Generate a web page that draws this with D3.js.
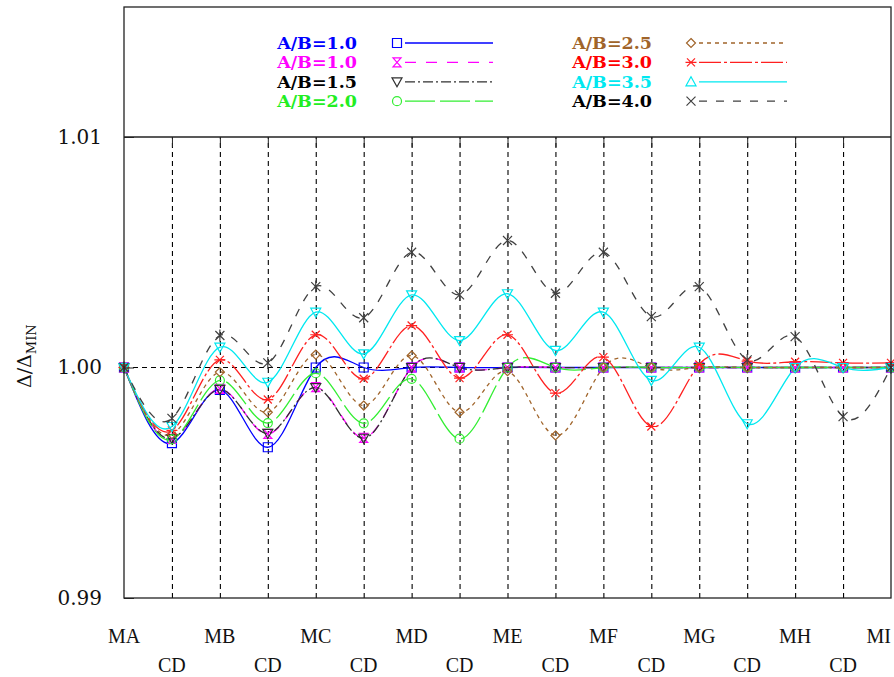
<!DOCTYPE html>
<html>
<head>
<meta charset="utf-8">
<script src="https://cdn.jsdelivr.net/npm/d3@7"></script>
<style>
  body { margin: 0; background: #fff; }
</style>
</head>
<body>
<svg id="canvas"></svg>
<script>
// x positions (tick labels)
let xLabels = ['MA', 'CD', 'MB', 'CD', 'MC', 'CD', 'MD', 'CD', 'ME', 'CD', 'MF', 'CD', 'MG', 'CD', 'MH', 'CD', 'MI'];
let yTicks = [0.99, 1.00, 1.01];

// series values
let ab10a = [1.0000, 0.99672, 0.99903, 0.99654, 1.0000, 1.0000, 1.0000, 1.0000, 1.0000, 1.0000, 1.0000, 1.0000, 1.0000, 1.0000, 1.0000, 1.0000, 1.0000];
let ab10b = [1.0000, 0.99690, 0.99907, 0.99712, 0.99915, 0.99695, 1.0000, 1.0000, 1.0000, 1.0000, 1.0000, 1.0000, 1.0000, 1.0000, 1.0000, 1.0000, 1.0000];
let ab15 = [1.0000, 0.99692, 0.99905, 0.99714, 0.99913, 0.99693, 1.0000, 1.0000, 1.0000, 1.0000, 1.0000, 1.0000, 1.0000, 1.0000, 1.0000, 1.0000, 1.0000];
let ab20 = [1.0000, 0.99688, 0.99944, 0.99759, 0.99975, 0.99758, 0.99951, 0.99691, 1.0000, 1.0000, 1.0000, 1.0000, 1.0000, 1.0000, 1.0000, 1.0000, 1.0000];
let ab25 = [1.0000, 0.99710, 0.99980, 0.99806, 1.00056, 0.99835, 1.00052, 0.99806, 0.99984, 0.99705, 1.0000, 1.0000, 1.0000, 1.0000, 1.0000, 1.0000, 1.0000];
let ab30 = [1.0000, 0.99727, 1.00033, 0.99861, 1.00142, 0.99951, 1.00182, 0.99954, 1.00142, 0.99889, 1.00045, 0.99744, 1.00013, 1.00028, 1.00025, 1.00020, 1.00020];
let ab35 = [1.0000, 0.99744, 1.00088, 0.99936, 1.00240, 1.00059, 1.00315, 1.00117, 1.00320, 1.00074, 1.00240, 0.99944, 1.00088, 0.99756, 1.0000, 1.0000, 1.0000];
let ab40 = [1.0000, 0.99779, 1.00139, 1.00020, 1.00351, 1.00216, 1.00500, 1.00315, 1.00551, 1.00322, 1.00500, 1.00221, 1.00351, 1.00033, 1.00134, 0.99787, 1.0000];

let seriesNames = ['A/B=1.0', 'A/B=1.0', 'A/B=1.5', 'A/B=2.0', 'A/B=2.5', 'A/B=3.0', 'A/B=3.5', 'A/B=4.0'];
let seriesValues = [ab10a, ab10b, ab15, ab20, ab25, ab30, ab35, ab40];

// styles
let lineColors = ['#0000ff', '#ff00ff', '#303030', '#33ee33', '#a0642a', '#ff2020', '#00e8f0', '#404040'];
let textColors = ['#0000ff', '#ff00ff', '#000000', '#22ee22', '#a0642a', '#ff0000', '#00e8f0', '#000000'];
let dashes = ['none', '11,10', '10,3,2,3', '30,5', '4,4', '22,3,3,3', 'none', '8,9'];
let markers = ['square', 'hourglass', 'tridown', 'circle', 'diamond', 'starh', 'triup', 'cross'];
let plotMarkers = ['square', 'hourglass', 'tridown', 'circle', 'diamond', 'starh', 'tridown', 'starv'];

let width = 894;
let height = 677;
let plotLeft = 124, plotRight = 891, plotTop = 7, plotSep = 137, plotBottom = 598;

let canvas = d3.select('#canvas');
canvas.attr('width', width);
canvas.attr('height', height);

let xScale = d3.scaleLinear().domain([0, xLabels.length - 1]).range([plotLeft, plotRight]);
let yScale = d3.scaleLinear().domain([0.99, 1.01]).range([plotBottom, plotSep]);

let markerPath = (type) => {
    switch (type) {
        case 'square': return 'M-4.5,-4.5H4.5V4.5H-4.5Z';
        case 'hourglass': return 'M-4,-4.5H4L-4,4.5H4Z';
        case 'tridown': return 'M-5,-4H5L0,5Z';
        case 'triup': return 'M-5,4H5L0,-5Z';
        case 'diamond': return 'M0,-4.5L4.5,0L0,4.5L-4.5,0Z';
        case 'starh': return 'M-4,-4L4,4M-4,4L4,-4M-5.5,0H5.5';
        case 'starv': return 'M-4.5,-4.5L4.5,4.5M-4.5,4.5L4.5,-4.5M0,-6V6';
        case 'cross': return 'M-4.5,-4.5L4.5,4.5M-4.5,4.5L4.5,-4.5';
    }
    return '';
};

let drawMarker = (g, type, color) => {
    if (type === 'circle') {
        g.append('circle').attr('r', 4.5)
            .attr('fill', 'none').attr('stroke', color).attr('stroke-width', 1.2);
    } else {
        g.append('path').attr('d', markerPath(type))
            .attr('fill', 'none').attr('stroke', color).attr('stroke-width', 1.2);
    }
};

// grid lines
let xGrid = d3.axisBottom(xScale)
    .tickValues(d3.range(1, xLabels.length - 1))
    .tickSize(-(plotBottom - plotSep))
    .tickFormat('');
canvas.append('g')
    .attr('transform', 'translate(0,' + plotBottom + ')')
    .call(xGrid)
    .call(g => g.select('.domain').remove())
    .call(g => g.selectAll('line').attr('stroke', '#000').attr('stroke-dasharray', '5,4').attr('stroke-width', 1.1));

canvas.append('line')
    .attr('x1', plotLeft).attr('x2', plotRight)
    .attr('y1', yScale(1.0)).attr('y2', yScale(1.0))
    .attr('stroke', '#000').attr('stroke-dasharray', '5,4').attr('stroke-width', 1.1);

// top mirror ticks under the legend box
canvas.append('g')
    .attr('transform', 'translate(0,' + plotSep + ')')
    .call(d3.axisBottom(xScale).tickValues(d3.range(1, xLabels.length - 1)).tickSize(10).tickFormat(''))
    .call(g => g.select('.domain').remove())
    .call(g => g.selectAll('line').attr('stroke', '#222').attr('stroke-width', 1));

// series
let line = d3.line()
    .x((d, i) => xScale(i))
    .y(d => yScale(d))
    .curve(d3.curveNatural);

seriesValues.forEach((vals, s) => {
    canvas.append('path')
        .datum(vals)
        .attr('d', line)
        .attr('fill', 'none')
        .attr('stroke', lineColors[s])
        .attr('stroke-width', 1.3)
        .attr('stroke-dasharray', dashes[s]);
});
seriesValues.forEach((vals, s) => {
    vals.forEach((v, i) => {
        let g = canvas.append('g').attr('transform', 'translate(' + xScale(i) + ',' + yScale(v) + ')');
        drawMarker(g, plotMarkers[s], lineColors[s]);
    });
});

// frame
canvas.append('rect')
    .attr('x', plotLeft).attr('y', plotTop)
    .attr('width', plotRight - plotLeft).attr('height', plotBottom - plotTop)
    .attr('fill', 'none').attr('stroke', '#222').attr('stroke-width', 1.3);
canvas.append('line')
    .attr('x1', plotLeft).attr('x2', plotRight).attr('y1', plotSep).attr('y2', plotSep)
    .attr('stroke', '#222').attr('stroke-width', 1.3);

// y axis
let yAxis = d3.axisLeft(yScale)
    .tickValues(yTicks)
    .tickSize(-10)
    .tickPadding(22)
    .tickFormat(d3.format('.2f'));
canvas.append('g')
    .attr('id', 'y-axis')
    .attr('transform', 'translate(' + plotLeft + ',0)')
    .call(yAxis)
    .call(g => g.select('.domain').remove())
    .call(g => g.selectAll('line').attr('stroke', '#222'))
    .call(g => g.selectAll('text')
        .attr('font-family', 'DejaVu Serif')
        .attr('font-size', 20)
        .attr('fill', '#111'));

// x labels
canvas.append('g')
    .attr('id', 'x-axis')
    .selectAll('text')
    .data(xLabels)
    .enter()
    .append('text')
    .attr('x', (d, i) => xScale(i))
    .attr('y', (d, i) => i % 2 === 0 ? 643 : 672)
    .attr('text-anchor', (d, i) => i === xLabels.length - 1 ? 'end' : 'middle')
    .attr('font-family', 'Liberation Serif')
    .attr('font-size', 20)
    .attr('fill', '#111')
    .text(d => d);

// y title
let yTitle = canvas.append('text')
    .attr('transform', 'translate(31,388) rotate(-90)')
    .attr('font-family', 'DejaVu Serif')
    .attr('font-size', 19)
    .attr('fill', '#111');
yTitle.append('tspan').text('Δ/Δ');
yTitle.append('tspan').attr('font-size', 13).attr('dy', 5).text('MIN');

// legend
let legend = canvas.append('g').attr('id', 'legend');
seriesNames.forEach((name, s) => {
    let col = Math.floor(s / 4);
    let row = s % 4;
    let ty = 43 + row * 19.4;
    let textX = col === 0 ? 357 : 652;
    let markX = col === 0 ? 397 : 691;
    let lineX1 = col === 0 ? 405 : 699;
    let lineX2 = col === 0 ? 493 : 787;
    legend.append('text')
        .attr('x', textX).attr('y', ty + 6)
        .attr('text-anchor', 'end')
        .attr('font-family', 'DejaVu Serif')
        .attr('font-weight', 'bold')
        .attr('font-size', 17.5)
        .attr('fill', textColors[s])
        .text(name);
    let g = legend.append('g').attr('transform', 'translate(' + markX + ',' + ty + ')');
    drawMarker(g, markers[s], lineColors[s]);
    legend.append('line')
        .attr('x1', lineX1).attr('x2', lineX2)
        .attr('y1', ty).attr('y2', ty)
        .attr('stroke', lineColors[s])
        .attr('stroke-width', 1.3)
        .attr('stroke-dasharray', dashes[s]);
});
</script>
</body>
</html>
